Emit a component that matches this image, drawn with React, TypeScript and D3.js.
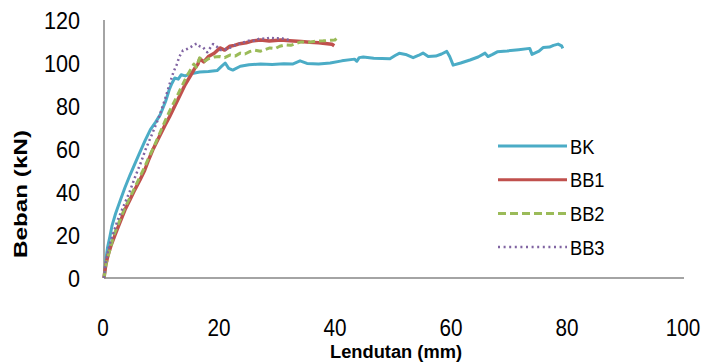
import React from "react";
import * as d3 from "d3";

// Load–deflection test results for beam specimens
type Pt = [number, number]; // [deflection mm, load kN]

const seriesNames = ["BK", "BB1", "BB2", "BB3"];
const seriesColors = ["#4BACC6", "#C0504D", "#9BBB59", "#8064A2"];

const xTicks = [0, 20, 40, 60, 80, 100];
const yTicks = [0, 20, 40, 60, 80, 100, 120];

const bk: Pt[] = [
  [0, 0], [0.3, 8], [0.6, 14], [1.0, 19], [1.4, 24.5], [2.0, 30], [2.8, 36], [3.6, 42],
  [4.5, 48], [5.3, 53], [6.2, 58.5], [7.1, 64], [8.0, 69], [8.9, 72.5], [9.7, 76],
  [10.6, 82], [11.3, 88], [11.7, 90.5], [12.2, 93], [12.8, 92.5], [13.3, 94.5],
  [14.0, 94], [15.0, 95], [16.5, 95.8], [18.0, 96], [19.5, 96.5], [20.3, 98.5],
  [20.9, 100], [21.5, 97.5], [22.2, 96.7], [23.5, 98.5], [25.0, 99.2], [27.0, 99.5],
  [29.0, 99.3], [31.0, 99.6], [32.5, 99.5], [33.8, 101], [35.0, 99.8], [37.0, 99.5],
  [39.0, 100], [41.0, 101], [43.2, 101.8], [43.6, 100.8], [44.0, 102.5], [44.7, 102.8],
  [46.5, 102.2], [49.3, 102], [50.2, 103.5], [50.9, 104.5], [52.0, 104], [53.3, 102.5],
  [54.2, 103.5], [55.0, 104.6], [55.9, 103], [57.2, 103.2], [58.2, 104.2], [59.1, 105.4],
  [59.6, 103], [60.2, 99], [61.5, 100], [63.1, 101.4], [64.5, 102.8], [65.7, 104.6],
  [66.2, 103], [67.0, 104], [67.8, 105.2], [69.5, 105.6], [71.5, 106.2], [73.4, 106.8],
  [73.8, 104], [75.0, 105.5], [75.7, 107.2], [76.8, 107.4], [77.5, 108.2], [78.3, 108.8],
  [78.9, 108], [79.1, 106.8],
];

const bb1: Pt[] = [
  [0, 0], [0.3, 6], [0.7, 10.7], [1.2, 15], [1.9, 20], [2.7, 25.5], [3.6, 31.6],
  [4.5, 36.5], [5.3, 41], [6.2, 45.6], [7.0, 50], [7.7, 55], [8.4, 59.5], [9.4, 65],
  [10.5, 71], [11.3, 75], [12.2, 80], [13.1, 85], [14.0, 90], [14.9, 94], [15.7, 97.7],
  [16.2, 99.5], [16.5, 102], [17.2, 100.5], [18.0, 103], [19.0, 104.5], [20.0, 107],
  [20.8, 106], [21.7, 107.8], [22.5, 108.2], [23.4, 109], [24.5, 109.4], [25.5, 110.2],
  [27.0, 110.7], [28.5, 110.2], [30.5, 110.7], [32.0, 110.4], [34.0, 110], [35.5, 109.6],
  [37.0, 109.4], [38.5, 109], [39.3, 108.7], [39.7, 108],
];

const bb2: Pt[] = [
  [0, 0], [0.4, 7], [0.9, 12], [1.7, 20], [2.6, 26], [3.5, 32], [4.4, 37], [5.2, 41.5],
  [6.0, 46], [6.9, 51], [7.8, 56.5], [8.6, 61], [9.4, 66], [10.2, 71], [11.2, 77],
  [12.3, 83], [13.3, 88.5], [14.2, 93.5], [14.9, 96.8], [15.5, 99.5], [15.9, 98],
  [16.5, 102.4], [17.2, 100.5], [18.0, 102], [19.0, 102.8], [20.0, 103], [20.8, 102.5],
  [21.7, 103.7], [22.6, 103.2], [23.5, 104.6], [24.3, 104.2], [25.2, 105.4], [26.0, 106],
  [27.0, 105.5], [28.6, 107], [29.5, 106.7], [30.3, 107.8], [31.2, 108.4], [32.2, 108.2],
  [33.0, 109], [34.0, 109.8], [35.3, 109.6], [36.5, 110.2], [37.8, 110.3], [38.8, 110.5],
  [39.8, 110.7], [40.2, 111.6], [40.6, 112],
];

const bb3: Pt[] = [
  [0, 0], [0.2, 5], [0.5, 10], [0.9, 15], [1.5, 20], [2.3, 26.5], [3.3, 33], [4.4, 40],
  [5.5, 48], [6.4, 54], [7.2, 60], [8.3, 67], [9.5, 75], [10.5, 83], [11.4, 91],
  [12.0, 96], [12.5, 99], [13.0, 103], [13.6, 105.8], [14.3, 106.5], [15.0, 107.5],
  [15.5, 108.5], [16.0, 109], [16.5, 107.8], [17.1, 107.2], [17.8, 105], [18.3, 107],
  [18.8, 108.8], [19.5, 107.5], [20.0, 106], [20.6, 106.2], [21.2, 106.4], [22.0, 107.5],
  [22.7, 108.5], [23.4, 109], [24.3, 109.8], [25.2, 110.6], [26.0, 110.4], [27.0, 111.6],
  [27.8, 111.2], [28.6, 111.8], [29.5, 111.4], [30.5, 111.6], [31.3, 111], [32.0, 110.7],
];

const seriesData: Pt[][] = [bk, bb1, bb2, bb3];
const dashes = [undefined, undefined, "7 4", "2 3"];
const widths = [3, 3.5, 3, 2.5];

const W = 704;
const H = 362;

export default function App() {
  const x = d3.scaleLinear().domain([0, 100]).range([104, 684]);
  const y = d3.scaleLinear().domain([0, 120]).range([278, 20]);
  const line = d3
    .line<Pt>()
    .x((d) => x(d[0]))
    .y((d) => y(d[1]))
    .curve(d3.curveLinear);

  const font = "'Liberation Sans', Arial, sans-serif";
  const narrow = 0.9;

  return (
    <svg
      width={W}
      height={H}
      style={{ position: "absolute", left: 0, top: 0, background: "#fff" }}
    >
      {/* axes */}
      <line x1={x(0)} x2={x(0)} y1={y(120)} y2={y(0)} stroke="#868686" strokeWidth={1.5} />
      <line x1={x(0)} x2={x(100)} y1={y(0)} y2={y(0)} stroke="#868686" strokeWidth={1.5} />

      {/* y tick labels */}
      {yTicks.map((t) => (
        <text
          key={"y" + t}
          transform={`translate(80, ${y(t)}) scale(${narrow}, 1)`}
          dy="0.36em"
          textAnchor="end"
          fontFamily={font}
          fontSize={24}
          fill="#000"
        >
          {t}
        </text>
      ))}

      {/* x tick labels */}
      {xTicks.map((t) => (
        <text
          key={"x" + t}
          transform={`translate(${x(t) - 1}, 335.5) scale(${narrow}, 1)`}
          textAnchor="middle"
          fontFamily={font}
          fontSize={23}
          fill="#000"
        >
          {t}
        </text>
      ))}

      {/* axis titles */}
      <text
        x={396}
        y={357.5}
        textAnchor="middle"
        fontFamily={font}
        fontWeight="bold"
        fontSize={17.5}
        textLength={132}
        lengthAdjust="spacingAndGlyphs"
      >
        Lendutan (mm)
      </text>
      <text
        transform={`translate(27, 194) rotate(-90)`}
        textAnchor="middle"
        fontFamily={font}
        fontWeight="bold"
        fontSize={19}
        textLength={128}
        lengthAdjust="spacingAndGlyphs"
      >
        Beban (kN)
      </text>

      {/* series */}
      {seriesData.map((d, i) => (
        <path
          key={seriesNames[i]}
          d={line(d) ?? ""}
          fill="none"
          stroke={seriesColors[i]}
          strokeWidth={widths[i]}
          strokeDasharray={dashes[i]}
          strokeLinejoin="round"
        />
      ))}

      {/* legend */}
      {seriesNames.map((name, i) => {
        const ly = 146 + i * 33.7;
        return (
          <g key={"lg" + name}>
            <line
              x1={498}
              x2={567}
              y1={ly}
              y2={ly}
              stroke={seriesColors[i]}
              strokeWidth={i === 3 ? 2.5 : 3}
              strokeDasharray={i === 2 ? "8 4" : i === 3 ? "2 3.6" : undefined}
            />
            <text
              transform={`translate(570, ${ly}) scale(0.87, 1)`}
              dy="0.36em"
              fontFamily={font}
              fontSize={21}
              fill="#000"
            >
              {name}
            </text>
          </g>
        );
      })}
    </svg>
  );
}
